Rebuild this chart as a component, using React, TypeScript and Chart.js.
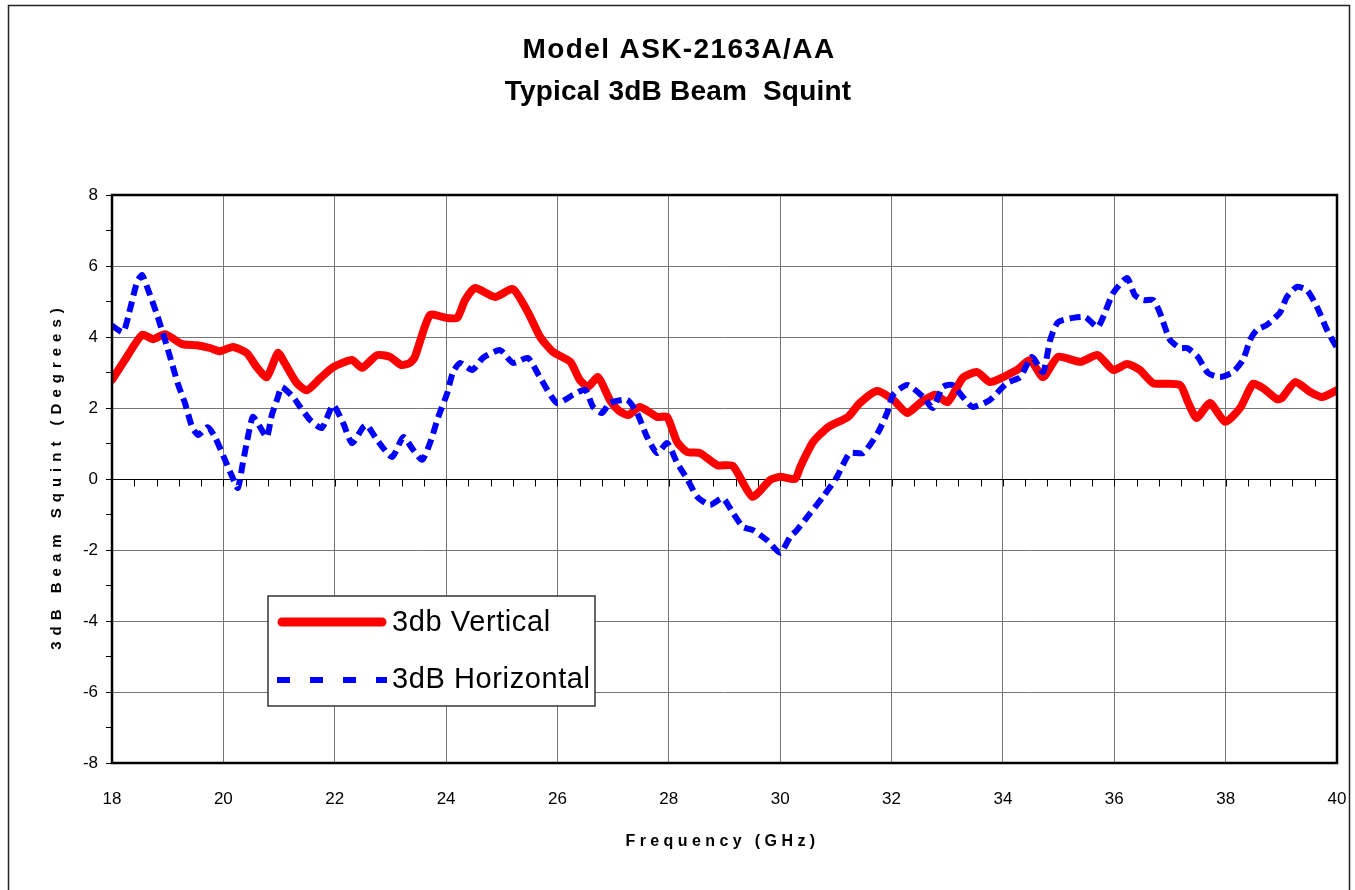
import React, { useEffect, useRef } from "react";
import { Chart, registerables } from "chart.js";

Chart.register(...registerables);

const TITLE_LINES = ["Model ASK-2163A/AA", "Typical 3dB Beam  Squint"];
const X_TITLE = "Frequency (GHz)";
const Y_TITLE = "3dB Beam Squint (Degrees)";
const SERIES_NAMES = ["3db Vertical", "3dB Horizontal"];

const vertFreq = [
  18.0, 18.23, 18.54, 18.74, 18.95, 19.26, 19.53, 19.76, 19.94, 20.17, 20.42, 20.6, 20.78, 20.98,
  21.1, 21.32, 21.5, 21.74, 21.97, 22.31, 22.49, 22.76, 22.99, 23.2, 23.35, 23.44, 23.71, 24.0,
  24.2, 24.34, 24.52, 24.88, 25.2, 25.47, 25.69, 25.92, 26.23, 26.4, 26.55, 26.73, 26.94, 27.09,
  27.27, 27.48, 27.79, 27.97, 28.15, 28.33, 28.56, 28.87, 29.15, 29.5, 29.82, 30.0, 30.27, 30.36,
  30.59, 30.86, 31.22, 31.43, 31.74, 32.03, 32.28, 32.51, 32.78, 33.01, 33.28, 33.54, 33.77, 34.25,
  34.49, 34.72, 34.99, 35.39, 35.7, 35.98, 36.23, 36.46, 36.7, 37.18, 37.33, 37.48, 37.72, 37.99,
  38.26, 38.49, 38.67, 38.92, 39.01, 39.25, 39.52, 39.73, 40.0,
];
const vertVal = [
  2.79, 3.35, 4.06, 3.94, 4.08, 3.8, 3.77, 3.69, 3.6, 3.72, 3.55, 3.15, 2.87, 3.55,
  3.27, 2.7, 2.5, 2.84, 3.15, 3.35, 3.13, 3.49, 3.44, 3.21, 3.27, 3.44, 4.62, 4.54,
  4.54, 5.04, 5.38, 5.13, 5.35, 4.7, 4.0, 3.58, 3.3, 2.79, 2.6, 2.87, 2.23, 1.94,
  1.8, 2.03, 1.75, 1.75, 1.04, 0.76, 0.73, 0.39, 0.37, -0.5, -0.03, 0.06, 0.0, 0.34,
  1.04, 1.46, 1.75, 2.14, 2.48, 2.23, 1.86, 2.14, 2.37, 2.17, 2.85, 3.01, 2.73, 3.07,
  3.35, 2.87, 3.44, 3.3, 3.49, 3.07, 3.24, 3.07, 2.7, 2.65, 2.14, 1.72, 2.14, 1.61,
  2.0, 2.68, 2.56, 2.25, 2.28, 2.73, 2.45, 2.31, 2.5,
];

const horzFreq = [
  18.0, 18.2, 18.32, 18.45, 18.54, 18.63, 18.81, 18.99, 19.19, 19.31, 19.44, 19.55, 19.72, 19.85,
  20.03, 20.16, 20.26, 20.35, 20.44, 20.53, 20.66, 20.78, 20.87, 20.98, 21.05, 21.25, 21.38, 21.56,
  21.77, 21.97, 22.15, 22.31, 22.51, 22.58, 22.76, 23.03, 23.23, 23.41, 23.57, 23.71, 23.86, 24.02,
  24.12, 24.25, 24.47, 24.66, 24.97, 25.2, 25.47, 25.69, 25.99, 26.28, 26.5, 26.64, 26.8, 26.94,
  27.25, 27.43, 27.61, 27.79, 27.97, 28.15, 28.33, 28.51, 28.74, 28.97, 29.14, 29.33, 29.51, 29.76,
  30.0, 30.18, 30.3, 30.54, 30.77, 31.02, 31.25, 31.49, 31.76, 31.92, 32.03, 32.28, 32.57, 32.74,
  32.92, 33.09, 33.28, 33.46, 33.77, 34.07, 34.31, 34.52, 34.72, 34.85, 34.99, 35.26, 35.48, 35.7,
  35.8, 35.98, 36.23, 36.37, 36.52, 36.7, 36.82, 37.0, 37.18, 37.31, 37.5, 37.68, 37.9, 38.13,
  38.31, 38.44, 38.56, 38.74, 38.98, 39.1, 39.28, 39.46, 39.64, 39.82, 40.0,
];
const horzVal = [
  4.32, 4.14, 4.76, 5.55, 5.75, 5.41, 4.62, 3.72, 2.65, 2.14, 1.46, 1.24, 1.46, 1.18,
  0.54, 0.06, -0.25, 0.45, 1.18, 1.75, 1.46, 1.18, 1.8, 2.31, 2.59, 2.31, 2.03, 1.66,
  1.44, 2.08, 1.58, 1.01, 1.46, 1.52, 1.1, 0.62, 1.18, 0.82, 0.54, 1.01, 1.75, 2.42,
  2.99, 3.27, 3.07, 3.41, 3.63, 3.27, 3.41, 2.85, 2.14, 2.37, 2.51, 2.03, 1.86, 2.14,
  2.23, 1.86, 1.18, 0.73, 1.01, 0.45, 0.0, -0.5, -0.73, -0.54, -0.93, -1.35, -1.44, -1.72,
  -2.08, -1.63, -1.44, -0.96, -0.5, 0.06, 0.73, 0.73, 1.32, 1.86, 2.37, 2.65, 2.31, 2.0,
  2.59, 2.65, 2.31, 2.03, 2.23, 2.7, 2.87, 3.44, 3.01, 3.92, 4.42, 4.54, 4.56, 4.28,
  4.56, 5.24, 5.66, 5.18, 5.04, 5.04, 4.68, 3.92, 3.69, 3.69, 3.44, 2.99, 2.87, 3.01,
  3.35, 3.92, 4.2, 4.34, 4.7, 5.13, 5.41, 5.32, 4.85, 4.2, 3.69,
];

const X_MIN = 18;
const X_MAX = 40;
const Y_MIN = -8;
const Y_MAX = 8;

const FONT = "'Liberation Sans', Arial, Helvetica, sans-serif";

const decorPlugin = {
  id: "decor",
  beforeDatasetsDraw(chart: any) {
    const ctx = chart.ctx;
    const ca = chart.chartArea;
    const xs = chart.scales.x;
    const ys = chart.scales.y;
    const y0 = Math.round(ys.getPixelForValue(0)) + 0.5;
    ctx.save();
    ctx.strokeStyle = "#000";
    ctx.lineWidth = 1;
    ctx.beginPath();
    ctx.moveTo(ca.left, y0);
    ctx.lineTo(ca.right, y0);
    for (let i = 0; i <= 55; i++) {
      const f = X_MIN + i * 0.4;
      const x = Math.round(xs.getPixelForValue(f)) + 0.5;
      ctx.moveTo(x, y0);
      ctx.lineTo(x, y0 + 7);
    }
    ctx.stroke();
    ctx.restore();
  },
  afterDraw(chart: any) {
    const ctx = chart.ctx;
    const ca = chart.chartArea;
    ctx.save();
    // plot border
    ctx.strokeStyle = "#000";
    ctx.lineWidth = 2.5;
    ctx.strokeRect(ca.left, ca.top, ca.right - ca.left, ca.bottom - ca.top);

    // titles
    ctx.fillStyle = "#000";
    ctx.textAlign = "center";
    ctx.textBaseline = "alphabetic";
    ctx.font = `bold 28px ${FONT}`;
    (ctx as any).letterSpacing = "1.4px";
    ctx.fillText(TITLE_LINES[0], 679, 58);
    (ctx as any).letterSpacing = "0.2px";
    ctx.fillText(TITLE_LINES[1], 678, 100);

    // x axis title
    ctx.font = `bold 16px ${FONT}`;
    (ctx as any).letterSpacing = "4.4px";
    ctx.fillText(X_TITLE, (ca.left + ca.right) / 2 - 2, 846);

    // y axis title
    ctx.save();
    ctx.translate(61, (ca.top + ca.bottom) / 2);
    ctx.rotate(-Math.PI / 2);
    ctx.font = `bold 15px ${FONT}`;
    (ctx as any).letterSpacing = "6px";
    ctx.fillText(Y_TITLE, 3, 0);
    ctx.restore();

    // legend
    (ctx as any).letterSpacing = "0.6px";
    ctx.fillStyle = "#fff";
    ctx.fillRect(268, 596, 327, 110);
    ctx.strokeStyle = "#333";
    ctx.lineWidth = 1.5;
    ctx.strokeRect(268, 596, 327, 110);

    ctx.strokeStyle = "#ff0000";
    ctx.lineWidth = 9;
    ctx.lineCap = "round";
    ctx.beginPath();
    ctx.moveTo(282, 622);
    ctx.lineTo(382, 622);
    ctx.stroke();

    ctx.strokeStyle = "#0000ff";
    ctx.lineWidth = 6;
    ctx.lineCap = "butt";
    ctx.setLineDash([13, 20]);
    ctx.beginPath();
    ctx.moveTo(277, 680);
    ctx.lineTo(387, 680);
    ctx.stroke();
    ctx.setLineDash([]);

    ctx.fillStyle = "#000";
    ctx.textAlign = "left";
    ctx.textBaseline = "middle";
    ctx.font = `29px ${FONT}`;
    ctx.fillText(SERIES_NAMES[0], 392, 623);
    ctx.fillText(SERIES_NAMES[1], 392, 680);

    // outer frame
    (ctx as any).letterSpacing = "0px";
    ctx.strokeStyle = "#222";
    ctx.lineWidth = 1.5;
    ctx.strokeRect(8.5, 5.5, 1341, 900);
    ctx.restore();
  },
};

export default function App() {
  const canvasRef = useRef<HTMLCanvasElement | null>(null);

  useEffect(() => {
    const canvas = canvasRef.current;
    if (!canvas) return;
    const vertData = vertFreq.map((f, i) => ({ x: f, y: vertVal[i] }));
    const horzData = horzFreq.map((f, i) => ({ x: f, y: horzVal[i] }));

    const chart = new Chart(canvas, {
      type: "line",
      data: {
        datasets: [
          {
            label: SERIES_NAMES[0],
            data: vertData,
            borderColor: "#ff0000",
            borderWidth: 8,
            pointRadius: 0,
            tension: 0.2,
            borderJoinStyle: "round",
            borderCapStyle: "round",
            order: 2,
          },
          {
            label: SERIES_NAMES[1],
            data: horzData,
            borderColor: "#0000ff",
            borderWidth: 6,
            borderDash: [11, 6],
            pointRadius: 0,
            tension: 0.2,
            borderCapStyle: "butt",
            order: 1,
          },
        ],
      },
      options: {
        animation: false,
        responsive: false,
        devicePixelRatio: 1,
        layout: { padding: { left: 60, top: 195, right: 18, bottom: 67 } },
        plugins: {
          legend: { display: false },
          title: { display: false },
          tooltip: { enabled: false },
        },
        scales: {
          x: {
            type: "linear",
            min: X_MIN,
            max: X_MAX,
            ticks: {
              stepSize: 2,
              padding: 26,
              color: "#000",
              font: { family: FONT, size: 17 },
              maxRotation: 0,
            },
            grid: { color: "#777", drawTicks: false, lineWidth: 1 },
            border: { display: false },
            afterFit: (s: any) => {
              s.height = 60;
              s.paddingLeft = 0;
              s.paddingRight = 0;
            },
          },
          y: {
            type: "linear",
            min: Y_MIN,
            max: Y_MAX,
            ticks: {
              stepSize: 1,
              autoSkip: false,
              padding: 8,
              color: "#000",
              font: { family: FONT, size: 17 },
              callback: (v: any) => (Number(v) % 2 === 0 ? String(v) : ""),
            },
            grid: {
              color: (c: any) =>
                c.tick && Math.abs(c.tick.value % 2) < 1e-9 ? "#777" : "rgba(0,0,0,0)",
              tickColor: "#000",
              tickLength: 6,
              lineWidth: 1,
            },
            border: { display: false },
            afterFit: (s: any) => {
              s.width = 52;
              s.paddingTop = 0;
              s.paddingBottom = 0;
            },
          },
        },
      },
      plugins: [decorPlugin],
    } as any);

    return () => chart.destroy();
  }, []);

  return (
    <div style={{ position: "absolute", left: 0, top: 0, width: 1355, height: 890, background: "#fff" }}>
      <canvas ref={canvasRef} width={1355} height={890} style={{ display: "block" }} />
    </div>
  );
}
